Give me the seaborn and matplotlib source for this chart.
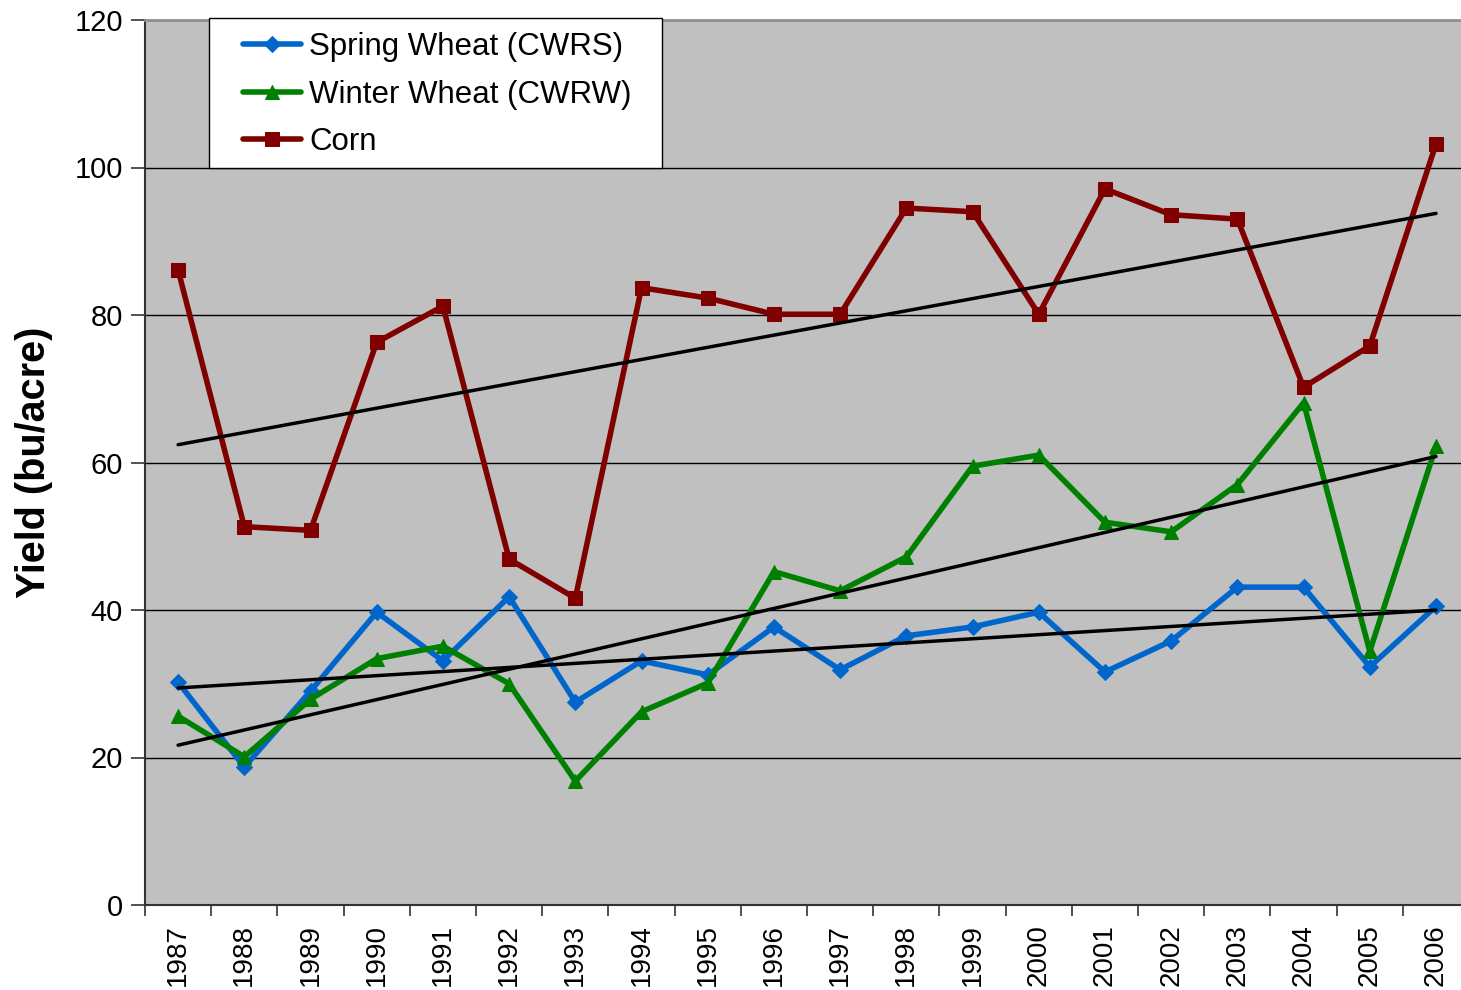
import numpy as np
import pandas as pd
import matplotlib
matplotlib.use("Agg")
import matplotlib.pyplot as plt
from matplotlib.patches import Rectangle
import seaborn as sns

years = [1987, 1988, 1989, 1990, 1991, 1992, 1993, 1994, 1995, 1996,
         1997, 1998, 1999, 2000, 2001, 2002, 2003, 2004, 2005, 2006]
spring_wheat = [30.2, 18.7, 29.0, 39.7, 33.1, 41.8, 27.5, 33.1, 31.2, 37.7,
                31.9, 36.5, 37.7, 39.7, 31.6, 35.8, 43.1, 43.1, 32.3, 40.5]
winter_wheat = [25.6, 20.1, 27.9, 33.4, 35.1, 30.0, 16.8, 26.2, 30.1, 45.2,
                42.6, 47.2, 59.5, 61.0, 51.9, 50.6, 57.0, 68.1, 34.4, 62.2]
corn = [86.1, 51.3, 50.8, 76.3, 81.2, 46.9, 41.6, 83.7, 82.3, 80.1,
        80.1, 94.5, 94.0, 80.1, 97.1, 93.6, 93.0, 70.2, 75.8, 103.2]
series_names = ["Spring Wheat (CWRS)", "Winter Wheat (CWRW)", "Corn"]
colors = ["#0066CC", "#008000", "#800000"]
markers = ["D", "^", "s"]
marker_sizes = [8, 10, 10]

sns.set_theme(style="white")
plt.rcParams['font.family'] = ['Liberation Sans', 'DejaVu Sans']
plt.rcParams.update({"text.color": "black", "axes.labelcolor": "black",
                     "xtick.color": "black", "ytick.color": "black",
                     "xtick.labelcolor": "black", "ytick.labelcolor": "black"})

W, H = 1461, 990
ax_l, ax_r, ax_t, ax_b = 145, 1461, 20, 905
fig = plt.figure(figsize=(W/100, H/100), dpi=100)
ax = fig.add_axes([ax_l/W, 1 - ax_b/H, (ax_r-ax_l)/W, (ax_b-ax_t)/H])
ax.set_facecolor("#C0C0C0")

idx = np.arange(len(years))
all_series = [spring_wheat, winter_wheat, corn]
for name, vals, c, m, ms in zip(series_names, all_series, colors, markers, marker_sizes):
    df = pd.DataFrame({"x": idx, "y": vals})
    sns.lineplot(data=df, x="x", y="y", ax=ax, color=c, linewidth=4,
                 marker=m, markersize=ms, markeredgecolor=c, label=name, zorder=3)

for vals in all_series:
    p = np.polyfit(idx, vals, 1)
    trend = pd.DataFrame({"x": [idx[0], idx[-1]], "y": np.polyval(p, [idx[0], idx[-1]])})
    sns.lineplot(data=trend, x="x", y="y", ax=ax, color="black", linewidth=2.5,
                 legend=False, zorder=4)

ax.set_yticks(range(0, 121, 20))
ax.set_xticks(idx)
ax.set_xticklabels([str(y) for y in years], rotation=90, fontsize=20, color="black")
ax.set_xticks(np.arange(-0.5, 20, 1.0), minor=True)
ax.set_ylim(0, 120)
ax.set_xlim(-0.5, 19 + 25/66.2)
ax.tick_params(axis="x", which="major", length=0, pad=14, labelcolor="black")
ax.tick_params(axis="x", which="minor", length=8, width=1.2, color="#333333", direction="out", bottom=True)
ax.tick_params(axis="y", which="major", length=10, width=1.2, color="#333333", direction="out",
               left=True, labelsize=21, pad=6, labelcolor="black")
ax.grid(axis="y", color="black", linewidth=1.0)
ax.set_axisbelow(True)
for s in ["left", "bottom"]:
    ax.spines[s].set_color("#333333")
    ax.spines[s].set_linewidth(1.5)
ax.spines["top"].set_color("#909090")
ax.spines["top"].set_linewidth(2)
ax.spines["right"].set_visible(False)

ax.set_xlabel("")
ax.set_ylabel("Yield (bu/acre)", fontsize=28.5, fontweight="bold", labelpad=15, color="black")

# legend box frame (layout only)
aw, ah = ax_r - ax_l, ax_b - ax_t
box_l, box_r, box_t, box_b = 209, 662, 18, 168
frame = Rectangle(((box_l-ax_l)/aw, (ax_b-box_b)/ah), (box_r-box_l)/aw, (box_b-box_t)/ah,
                  transform=ax.transAxes, facecolor="white", edgecolor="black",
                  linewidth=1.0, clip_on=False, zorder=9)
ax.add_patch(frame)

leg = ax.legend(loc="upper left", bbox_to_anchor=((229-ax_l)/aw, 1 + 2/ah), fontsize=22.5,
                frameon=False, handlelength=1.85, borderpad=0.45, labelspacing=0.56,
                handletextpad=0.26, borderaxespad=0)
for t in leg.get_texts():
    t.set_color("black")
leg.set_zorder(10)

fig.savefig("out.png", dpi=100)
